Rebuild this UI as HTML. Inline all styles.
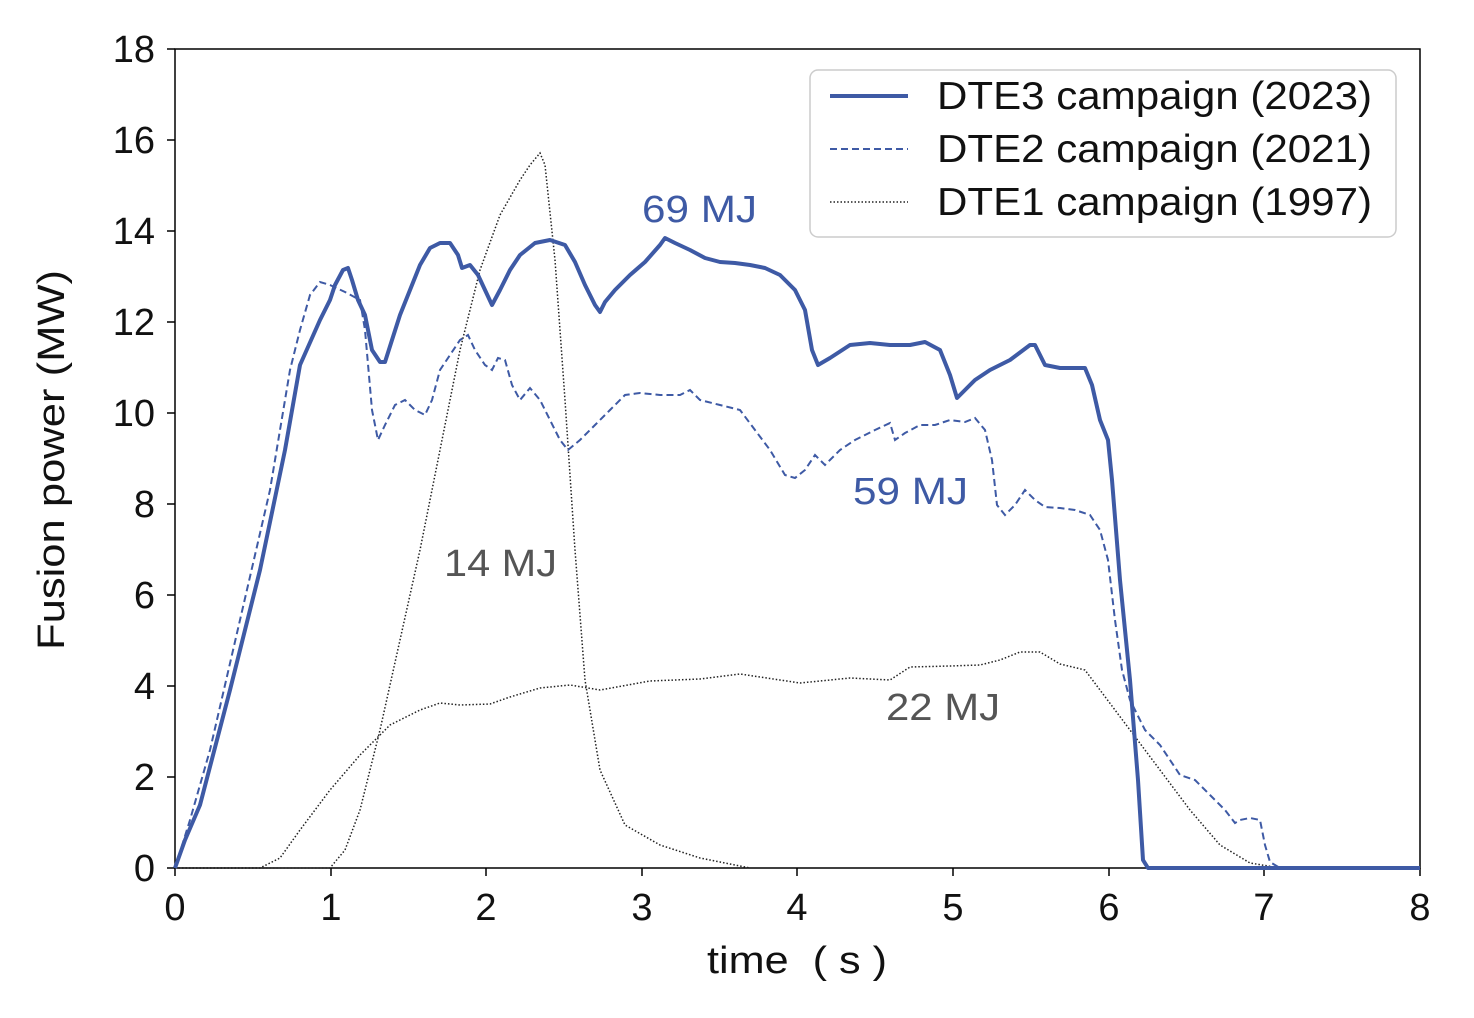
<!DOCTYPE html>
<html><head><meta charset="utf-8"><style>
html,body{margin:0;padding:0;background:#fff;}
svg{display:block;font-family:"Liberation Sans","DejaVu Sans",sans-serif;}
</style></head><body>
<svg width="1474" height="1018" viewBox="0 0 1474 1018" xmlns="http://www.w3.org/2000/svg">
<rect x="0" y="0" width="1474" height="1018" fill="#fff"/>
<rect x="175" y="49" width="1245" height="819" fill="none" stroke="#000" stroke-width="1.5"/>
<g stroke="#000" stroke-width="1.5">
<line x1="175" y1="868" x2="175" y2="876"/><line x1="331" y1="868" x2="331" y2="876"/><line x1="486" y1="868" x2="486" y2="876"/><line x1="642" y1="868" x2="642" y2="876"/><line x1="797" y1="868" x2="797" y2="876"/><line x1="953" y1="868" x2="953" y2="876"/><line x1="1109" y1="868" x2="1109" y2="876"/><line x1="1264" y1="868" x2="1264" y2="876"/><line x1="1420" y1="868" x2="1420" y2="876"/>
<line x1="167" y1="868" x2="175" y2="868"/><line x1="167" y1="777" x2="175" y2="777"/><line x1="167" y1="686" x2="175" y2="686"/><line x1="167" y1="595" x2="175" y2="595"/><line x1="167" y1="504" x2="175" y2="504"/><line x1="167" y1="413" x2="175" y2="413"/><line x1="167" y1="322" x2="175" y2="322"/><line x1="167" y1="231" x2="175" y2="231"/><line x1="167" y1="140" x2="175" y2="140"/><line x1="167" y1="49" x2="175" y2="49"/>
</g>
<g font-size="38" fill="#111" text-anchor="middle">
<text x="175" y="920">0</text><text x="331" y="920">1</text><text x="486" y="920">2</text><text x="642" y="920">3</text><text x="797" y="920">4</text><text x="953" y="920">5</text><text x="1109" y="920">6</text><text x="1264" y="920">7</text><text x="1420" y="920">8</text>
</g>
<g font-size="38" fill="#111" text-anchor="end">
<text x="155" y="881">0</text><text x="155" y="790">2</text><text x="155" y="699">4</text><text x="155" y="608">6</text><text x="155" y="517">8</text><text x="155" y="426">10</text><text x="155" y="335">12</text><text x="155" y="244">14</text><text x="155" y="153">16</text><text x="155" y="62">18</text>
</g>
<text x="707" y="973" font-size="38" fill="#111" textLength="180" lengthAdjust="spacingAndGlyphs" xml:space="preserve">time  ( s )</text>
<text transform="translate(64,650) rotate(-90)" font-size="38" fill="#111" textLength="380" lengthAdjust="spacingAndGlyphs">Fusion power (MW)</text>

<g fill="none" stroke="#222" stroke-width="1.5" stroke-dasharray="1.5,2">
<polyline points="175,868 330,868 345,850 360,810 380,730 400,640 420,550 440,450 460,350 480,270 500,215 520,180 530,165 540,153 545,165 555,260 565,400 575,550 585,680 600,770 625,825 660,845 700,858 750,868"/>
<polyline points="175,868 260,868 280,858 300,830 330,790 360,755 390,725 420,710 440,703 460,705 490,704 510,697 540,688 570,685 600,690 650,681 700,679 740,674 800,683 850,678 890,680 910,667 950,666 980,665 1000,660 1020,652 1040,652 1060,664 1085,670 1100,690 1130,730 1160,770 1190,810 1220,845 1250,863 1280,868"/>
</g>
<polyline fill="none" stroke="#3e5aa5" stroke-width="2" stroke-dasharray="7,4" points="175,868 190,820 210,750 240,620 270,490 290,370 300,330 310,295 320,282 330,285 345,292 360,300 365,330 372,410 378,440 385,425 395,405 405,400 415,410 425,415 432,400 440,370 450,355 460,340 468,335 475,350 485,365 492,370 498,358 505,360 512,385 520,400 530,388 540,400 550,420 560,440 568,450 580,440 595,425 610,410 625,395 640,393 660,395 680,395 690,390 700,400 720,405 740,410 755,430 770,450 785,475 795,478 805,470 815,455 825,465 840,450 855,440 875,430 890,423 895,440 905,433 920,425 935,425 950,420 965,422 975,418 985,430 992,460 997,505 1005,515 1015,505 1025,490 1035,500 1045,507 1060,508 1075,510 1090,515 1100,530 1108,560 1115,620 1122,670 1130,700 1145,730 1160,745 1170,760 1180,775 1195,780 1210,795 1225,810 1235,823 1240,820 1250,818 1260,820 1265,845 1270,862 1280,868 1420,868"/>
<polyline fill="none" stroke="#3e5aa5" stroke-width="4" stroke-linejoin="round" points="175,868 185,840 200,805 230,690 260,570 285,450 300,365 320,320 330,300 335,285 343,270 348,268 352,280 358,300 365,315 372,350 380,362 385,362 392,340 400,315 410,290 420,265 430,248 440,243 450,243 458,255 462,268 470,265 478,275 485,290 492,305 500,290 510,270 520,255 535,243 550,240 565,245 575,262 585,285 595,305 600,312 605,302 615,290 630,275 645,262 660,245 665,238 675,243 690,250 705,258 720,262 735,263 750,265 765,268 780,275 795,290 805,310 812,350 818,365 830,358 850,345 870,343 890,345 910,345 925,342 940,350 950,375 957,398 965,390 975,380 990,370 1010,360 1030,345 1035,345 1045,365 1060,368 1085,368 1092,385 1100,420 1108,440 1112,480 1120,580 1130,680 1138,780 1143,860 1148,868 1420,868"/>

<text x="642" y="222" font-size="38" fill="#3e5aa5" textLength="115" lengthAdjust="spacingAndGlyphs">69 MJ</text>
<text x="853" y="504" font-size="38" fill="#3e5aa5" textLength="115" lengthAdjust="spacingAndGlyphs">59 MJ</text>
<text x="444" y="576" font-size="38" fill="#555" textLength="113" lengthAdjust="spacingAndGlyphs">14 MJ</text>
<text x="886" y="720" font-size="38" fill="#555" textLength="114" lengthAdjust="spacingAndGlyphs">22 MJ</text>

<rect x="810" y="70" width="586" height="167" rx="8" fill="#fff" stroke="#ccc" stroke-width="1.5"/>
<line x1="830" y1="96" x2="908" y2="96" stroke="#3e5aa5" stroke-width="4"/>
<line x1="830" y1="149" x2="908" y2="149" stroke="#3e5aa5" stroke-width="2" stroke-dasharray="7,4"/>
<line x1="830" y1="202" x2="908" y2="202" stroke="#222" stroke-width="1.5" stroke-dasharray="1.5,2"/>
<g font-size="39" fill="#111">
<text x="937" y="109" textLength="435" lengthAdjust="spacingAndGlyphs">DTE3 campaign (2023)</text>
<text x="937" y="162" textLength="435" lengthAdjust="spacingAndGlyphs">DTE2 campaign (2021)</text>
<text x="937" y="215" textLength="435" lengthAdjust="spacingAndGlyphs">DTE1 campaign (1997)</text>
</g>
</svg>
</body></html>
